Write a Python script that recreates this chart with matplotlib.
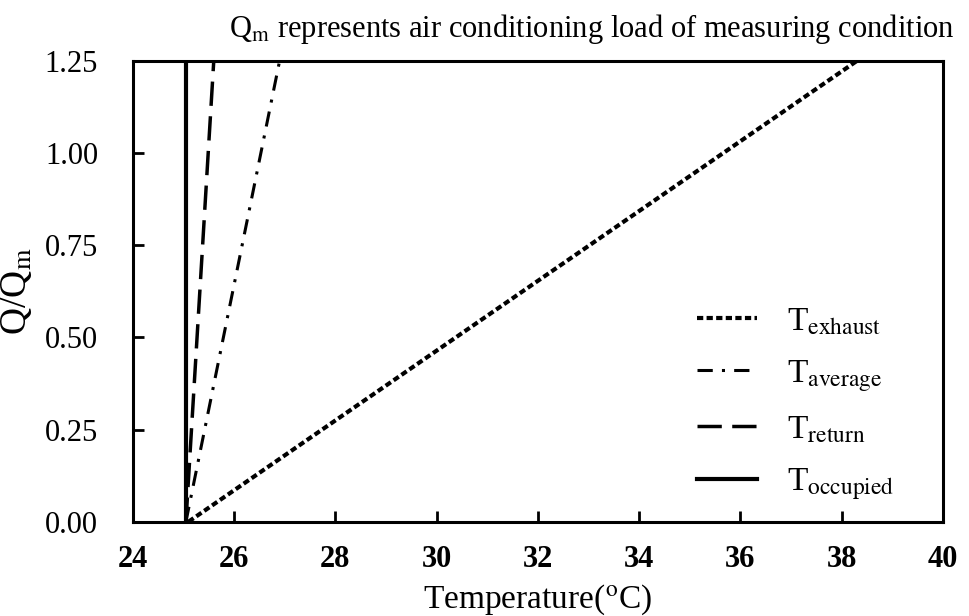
import numpy as np
import matplotlib
matplotlib.use('Agg')
import matplotlib.pyplot as plt

plt.rcParams['font.family'] = ['Liberation Serif', 'DejaVu Serif']
plt.rcParams['mathtext.fontset'] = 'stix'

# load ratio at the two ends of each line
q = [0.0, 1.25]
t_exhaust = [25.1, 38.3]
t_average = [25.05, 26.9]
t_return = [25.05, 25.6]
t_occupied = [25.05, 25.05]

labels = [r'T$_\mathrm{exhaust}$', r'T$_\mathrm{average}$',
          r'T$_\mathrm{return}$', r'T$_\mathrm{occupied}$']
xticks = np.arange(24, 41, 2)
yticks = [0.0, 0.25, 0.5, 0.75, 1.0, 1.25]

fig = plt.figure(figsize=(9.69, 6.16), dpi=100)
ax = fig.add_axes([0.137, 0.153, 0.836, 0.748])

ax.plot(t_exhaust, q, color='k', lw=3, linestyle=(0, (1.5, 0.8)), label=labels[0])
ax.plot(t_average, q, color='k', lw=2.2, linestyle=(0, (5, 3, 1, 3)), label=labels[1])
ax.plot(t_return, q, color='k', lw=2.5, linestyle=(0, (7, 3)), label=labels[2])
ax.plot(t_occupied, q, color='k', lw=3, linestyle='-', label=labels[3])

ax.set_xlim(24, 40)
ax.set_ylim(0, 1.25)
ax.set_xticks(xticks)
ax.set_yticks(yticks)
ax.set_xticklabels([str(v) for v in xticks], fontweight='bold', fontsize=22)
ax.set_yticklabels(['%.2f' % v for v in yticks], fontsize=22)
ax.tick_params(direction='in', length=8, width=2)
ax.tick_params(axis='x', pad=17)
ax.tick_params(axis='y', pad=25)
for s in ax.spines.values():
    s.set_linewidth(2.2)

ax.set_xlabel(r'Temperature($^\mathrm{o}$C)', fontsize=24, labelpad=6)
ax.set_ylabel(r'Q/Q$_\mathrm{m}$', fontsize=27, labelpad=8)
ax.set_title(r'Q$_\mathrm{m}$ represents air conditioning load of measuring condition',
             fontsize=22, x=0.567, pad=17)

ax.legend(loc='lower right', frameon=False, fontsize=24, handlelength=1.8,
          handletextpad=0.9, labelspacing=0.63, borderaxespad=0.2,
          bbox_to_anchor=(0.965, 0.0))

fig.savefig('out.png', dpi=100)
